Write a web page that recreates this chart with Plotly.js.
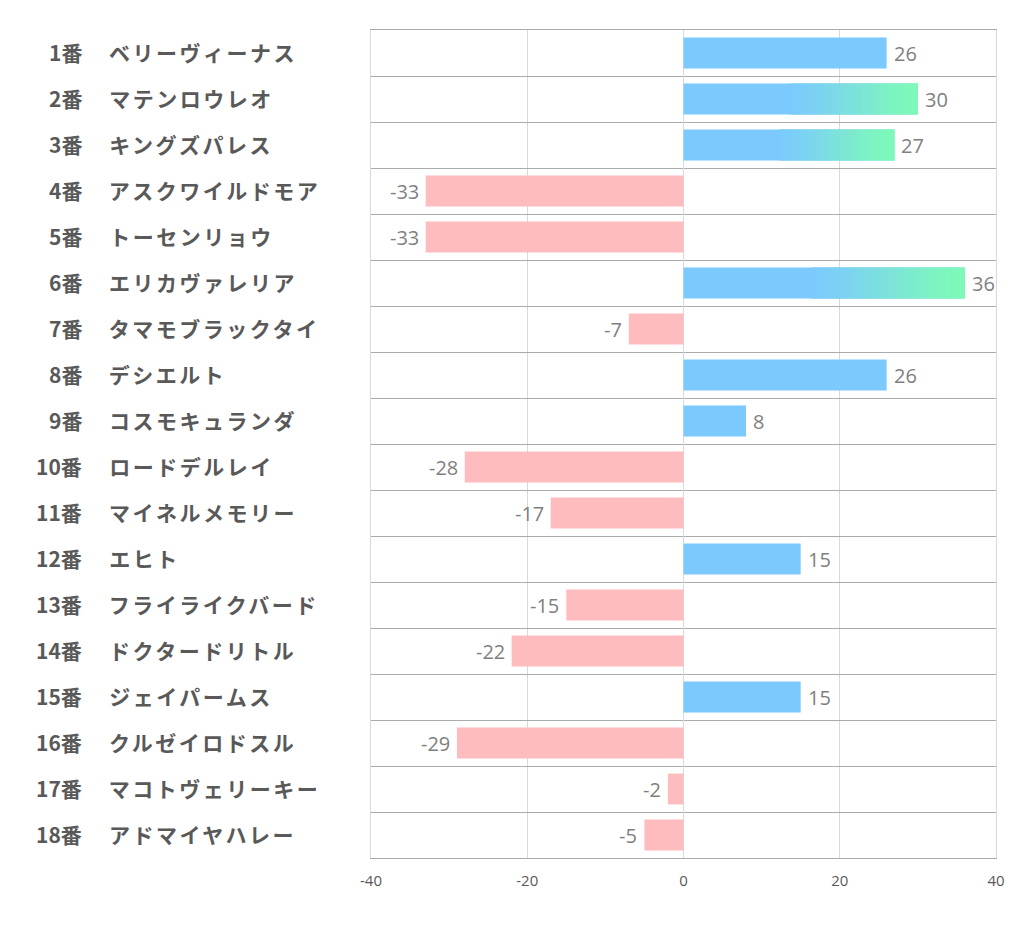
<!DOCTYPE html>
<html><head><meta charset="utf-8">
<script src="https://cdn.plot.ly/plotly-3.0.1.min.js"></script>
<style>body{margin:0;background:#fff}#c{width:1022px;height:939px}</style>
</head><body><div id="c"></div>
<script>
const numbers = ["1番","2番","3番","4番","5番","6番","7番","8番","9番","10番","11番","12番","13番","14番","15番","16番","17番","18番"];
const names = ["ベリーヴィーナス","マテンロウレオ","キングズパレス","アスクワイルドモア","トーセンリョウ","エリカヴァレリア","タマモブラックタイ","デシエルト","コスモキュランダ","ロードデルレイ","マイネルメモリー","エヒト","フライライクバード","ドクタードリトル","ジェイパームス","クルゼイロドスル","マコトヴェリーキー","アドマイヤハレー"];
const values = [26,30,27,-33,-33,36,-7,26,8,-28,-17,15,-15,-22,15,-29,-2,-5];
const gradientRows = [false,true,true,false,false,true,false,false,false,false,false,false,false,false,false,false,false,false];
const xTicks = [-40,-20,0,20,40];

const blue = [124,202,253], green = [125,250,184], pink = '#ffbcbe';
const LS = 2.5;
const idx = values.map((v,i)=>i);
const traces = [{
  type:'bar', orientation:'h', y:idx, x:values, width:0.67,
  marker:{color:values.map(v=>v>=0?'rgb('+blue.join(',')+')':pink), line:{width:0}},
  hoverinfo:'skip'
}];
const N = 60;
for (let k=0;k<N;k++){
  const ys=[], xs=[], bs=[];
  values.forEach((v,i)=>{ if(gradientRows[i]){ const start=v*0.45, seg=(v-start)/N; ys.push(i); xs.push(seg*2); bs.push(start+k*seg); }});
  let t=(k+0.5)/N;
  t = t*t*(3-2*t)*0.5 + t*0.5;
  const c=blue.map((b,j)=>Math.round(b+(green[j]-b)*t));
  traces.push({type:'bar', orientation:'h', y:ys, x:xs.map((x,q)=>Math.min(x, values[ys[q]]-bs[q])), base:bs, width:0.67,
    marker:{color:'rgb('+c.join(',')+')', line:{width:0}}, hoverinfo:'skip'});
}
const plotL=371, plotW=625;
const ann=[];
values.forEach((v,i)=>{
  ann.push({x:v, y:i, xref:'x', yref:'y', text:String(v), showarrow:false,
    xanchor:v>=0?'left':'right', xshift:v>=0?5:-5,
    font:{family:'"Open Sans", "Noto Sans", sans-serif', size:20, color:'#7f7f7f'}});
  ann.push({x:(84-plotL)/plotW, y:i, xref:'paper', yref:'y', yshift:1, text:numbers[i], showarrow:false, xanchor:'right',
    font:{family:'"Noto Sans CJK JP", sans-serif', size:21, color:'#595959', weight:'bold'}});
  ann.push({x:(107-plotL)/plotW, y:i, xref:'paper', yref:'y', yshift:1, xshift:names[i].length*LS/2, text:names[i], showarrow:false, xanchor:'left',
    font:{family:'"Noto Sans CJK JP", sans-serif', size:21, color:'#595959', weight:'bold'}});
});
const layout={
  width:1022, height:939, margin:{l:plotL, r:26, t:30, b:81},
  paper_bgcolor:'#fff', plot_bgcolor:'#fff', barmode:'overlay', showlegend:false,
  xaxis:{range:[-40,40], tickvals:xTicks, ticktext:xTicks.map(String), showgrid:true, gridcolor:'#d9d9d9', gridwidth:1,
    zeroline:true, zerolinecolor:'#d9d9d9', zerolinewidth:1, showline:true, mirror:true, linecolor:'#ababab', linewidth:1,
    ticks:'', ticklen:0, ticklabelstandoff:9, tickfont:{family:'"Open Sans", "Noto Sans", sans-serif', size:15, color:'#595959'}, fixedrange:true},
  yaxis:{range:[17.5,-0.5], tickmode:'linear', tick0:-0.5, dtick:1, showticklabels:false, showgrid:true, gridcolor:'#ababab', gridwidth:1,
    zeroline:false, showline:true, mirror:true, linecolor:'#d9d9d9', linewidth:1, ticks:'', fixedrange:true},
  annotations:ann
};
Plotly.newPlot('c', traces, layout, {displayModeBar:false, staticPlot:true}).then(()=>{
  document.querySelectorAll('.annotation-text').forEach(el=>{
    if (names.indexOf(el.textContent) >= 0) el.style.letterSpacing=LS+'px';
  });
});
</script></body></html>
